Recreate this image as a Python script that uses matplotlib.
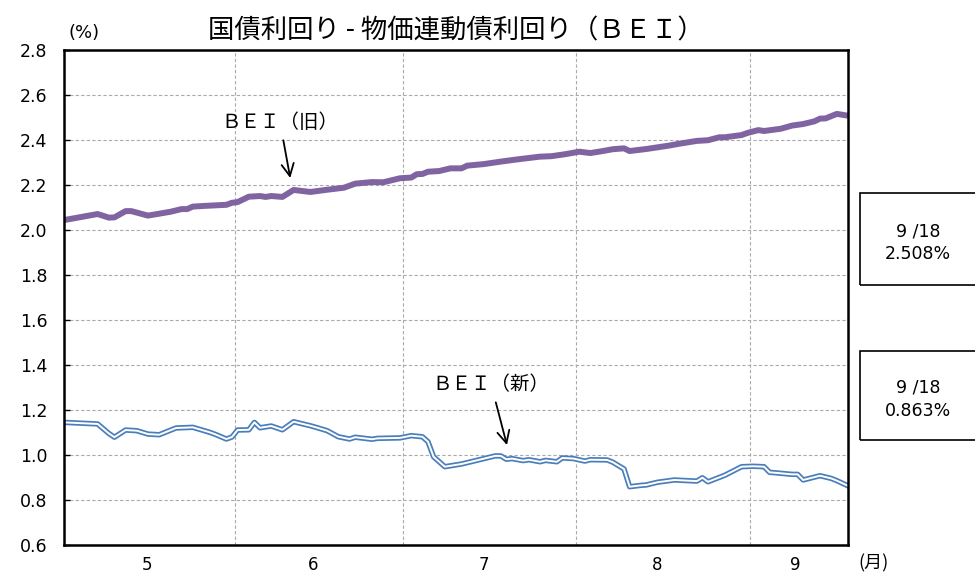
import matplotlib
matplotlib.use("Agg")
import matplotlib.pyplot as plt
from matplotlib.patches import Rectangle

plt.rcParams['font.family'] = ['Noto Sans CJK JP', 'DejaVu Sans']

# --- data ---
old_dates = ["5/1", "5/7", "5/9", "5/10", "5/12", "5/13", "5/16", "5/20", "5/22", "5/23",
             "5/24", "5/26", "5/30", "5/31", "6/1", "6/3", "6/5", "6/6", "6/7", "6/9",
             "6/11", "6/14", "6/17", "6/20", "6/22", "6/25", "6/27", "6/30", "7/2", "7/3",
             "7/4", "7/5", "7/7", "7/9", "7/11", "7/12", "7/15", "7/18", "7/21", "7/23",
             "7/25", "7/27", "7/29", "7/30", "8/1", "8/3", "8/5", "8/7", "8/9", "8/10",
             "8/13", "8/17", "8/19", "8/22", "8/24", "8/26", "8/27", "8/30", "8/31", "9/2",
             "9/3", "9/6", "9/8", "9/10", "9/12", "9/13", "9/14", "9/16", "9/18"]
old_bei = [2.044, 2.071, 2.055, 2.056, 2.084, 2.084, 2.064, 2.081, 2.093, 2.093,
           2.104, 2.107, 2.112, 2.121, 2.124, 2.148, 2.151, 2.147, 2.151, 2.147,
           2.178, 2.169, 2.179, 2.188, 2.206, 2.213, 2.212, 2.230, 2.233, 2.248,
           2.249, 2.259, 2.262, 2.274, 2.274, 2.286, 2.293, 2.304, 2.314, 2.320,
           2.326, 2.328, 2.335, 2.339, 2.348, 2.342, 2.350, 2.359, 2.363, 2.351,
           2.360, 2.375, 2.384, 2.396, 2.399, 2.412, 2.412, 2.422, 2.431, 2.444,
           2.440, 2.450, 2.464, 2.471, 2.483, 2.495, 2.496, 2.516, 2.508]

new_dates = ["5/1", "5/7", "5/9", "5/10", "5/12", "5/14", "5/16", "5/18", "5/21", "5/24",
             "5/27", "5/28", "5/30", "5/31", "6/1", "6/3", "6/4", "6/5", "6/7", "6/9",
             "6/11", "6/14", "6/15", "6/17", "6/19", "6/21", "6/22", "6/25", "6/26", "6/30",
             "7/2", "7/4", "7/5", "7/6", "7/8", "7/9", "7/11", "7/14", "7/17", "7/18",
             "7/19", "7/20", "7/22", "7/23", "7/25", "7/26", "7/28", "7/29", "7/31", "8/2",
             "8/3", "8/6", "8/7", "8/9", "8/10", "8/12", "8/13", "8/15", "8/18", "8/22",
             "8/23", "8/24", "8/27", "8/30", "9/1", "9/3", "9/4", "9/5", "9/8", "9/9",
             "9/10", "9/13", "9/15", "9/16", "9/18"]
new_bei = [1.145, 1.138, 1.096, 1.079, 1.111, 1.108, 1.093, 1.090, 1.120, 1.123,
           1.101, 1.092, 1.071, 1.080, 1.111, 1.112, 1.145, 1.121, 1.129, 1.112,
           1.148, 1.130, 1.123, 1.108, 1.081, 1.071, 1.079, 1.070, 1.074, 1.076,
           1.086, 1.081, 1.059, 0.992, 0.948, 0.952, 0.960, 0.978, 0.996, 0.996,
           0.981, 0.984, 0.975, 0.979, 0.970, 0.976, 0.970, 0.987, 0.984, 0.973,
           0.979, 0.978, 0.968, 0.938, 0.859, 0.865, 0.867, 0.879, 0.889, 0.884,
           0.899, 0.881, 0.910, 0.948, 0.950, 0.948, 0.923, 0.921, 0.914, 0.914,
           0.889, 0.908, 0.896, 0.886, 0.863]

months = [5, 6, 7, 8, 9]
month_days = [31, 30, 31, 31, 18]   # September shown up to the 18th
month_labels = ["5", "6", "7", "8", "9"]
yticks = [0.6, 0.8, 1.0, 1.2, 1.4, 1.6, 1.8, 2.0, 2.2, 2.4, 2.6, 2.8]

last_date_label = "9 /18"
old_last = "2.508%"
new_last = "0.863%"

# day offset from May 1
month_start = {}
acc = 0
for m, n in zip(months, month_days):
    month_start[m] = acc
    acc += n
x_end = acc - 1


def to_x(s):
    m, d = s.split("/")
    return month_start[int(m)] + int(d) - 1


old_x = [to_x(s) for s in old_dates]
new_x = [to_x(s) for s in new_dates]

fig = plt.figure(figsize=(9.75, 5.77), dpi=100)
ax = fig.add_axes([64/975, 1-545/577, (848-64)/975, (545-50)/577])

purple = "#8064a2"
blue = "#4a7ebb"

ax.plot(old_x, old_bei, color=purple, lw=4.3, solid_capstyle="butt", zorder=3)
# double line: blue outline with a white core
ax.plot(new_x, new_bei, color=blue, lw=3.9, zorder=3)
ax.plot(new_x, new_bei, color="white", lw=1.4, zorder=4)

ax.set_xlim(0, x_end)
ax.set_ylim(0.6, 2.8)

# grid: horizontal every 0.2, vertical at month boundaries
ax.set_yticks(yticks)
ax.set_yticklabels(["%.1f" % v for v in yticks], fontsize=12.5, family=['DejaVu Sans'])
bounds = [month_start[m] - 0.5 for m in months[1:]]
ax.set_xticks(bounds)
ax.set_xticklabels([])
mids = [month_start[m] + n / 2 - 1.5 for m, n in zip(months, month_days)]
mids[0] += 0.8
ax.set_xticks(mids, minor=True)
ax.set_xticklabels(month_labels, minor=True, fontsize=12, family=['DejaVu Sans'])
ax.tick_params(axis="x", which="both", length=0, pad=8)
ax.tick_params(axis="y", direction="in", length=4, width=1, pad=12)
ax.grid(True, which="major", color="#aaaaaa", linestyle=(0, (3, 2)), lw=0.8)

for sp in ax.spines.values():
    sp.set_linewidth(1.8)
    sp.set_zorder(5)

ax.set_title("国債利回り - 物価連動債利回り（ＢＥＩ）", fontsize=19, pad=8)
fig.text(68/975, 1-33/577, "(%)", fontsize=13, va="center", family=['DejaVu Sans'])
fig.text(858/975, 1-563/577, "(月)", fontsize=13, va="center")

# labels with arrows
arrow = dict(arrowstyle="->", color="black", lw=1.3, mutation_scale=22,
             shrinkA=3, shrinkB=0)
ax.annotate("ＢＥＩ（旧）", xy=(40.4, 2.231), xytext=(38.6, 2.476),
            fontsize=14, ha="center", va="center", arrowprops=arrow)
ax.annotate("ＢＥＩ（新）", xy=(79.1, 1.044), xytext=(76.3, 1.311),
            fontsize=14, ha="center", va="center", arrowprops=arrow)

# last value boxes on the right
for top, bottom, val in [(193, 285, old_last), (351, 440, new_last)]:
    fig.patches.append(Rectangle((860/975, 1-bottom/577), 0.2, (bottom-top)/577,
                                 transform=fig.transFigure, fill=False,
                                 edgecolor="black", lw=1.2))
    cy = (top + bottom) / 2
    fig.text(918/975, 1-(cy-8)/577, last_date_label, fontsize=12.5, ha="center",
             va="center", family=['DejaVu Sans'])
    fig.text(918/975, 1-(cy+15)/577, val, fontsize=12.5, ha="center", va="center",
             family=['DejaVu Sans'])

fig.savefig("out.png", dpi=100)
